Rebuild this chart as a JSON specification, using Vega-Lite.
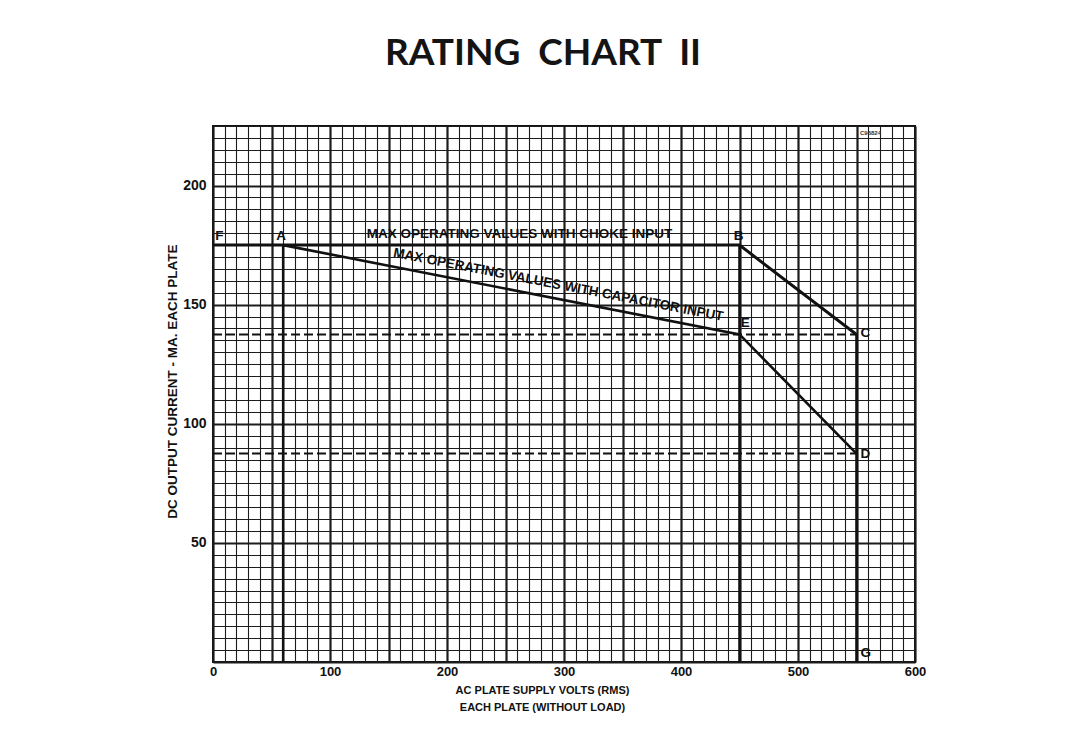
{
  "$schema": "https://vega.github.io/schema/vega-lite/v6.json",
  "width": 702,
  "height": 536,
  "autosize": {"type": "none"},
  "padding": {"left": 213, "top": 126, "right": 171, "bottom": 72},
  "background": "white",
  "title": {
    "text": "RATING\u00a0 CHART\u00a0 II",
    "font": "Lato",
    "fontWeight": 700,
    "fontSize": 37,
    "color": "#141414",
    "anchor": "middle",
    "dx": -21,
    "offset": 46
  },
  "config": {
    "view": {"stroke": "#111", "strokeWidth": 2},
    "axis": {
      "grid": true,
      "gridColor": "#1c1c1c",
      "gridOpacity": 1,
      "ticks": false,
      "domain": false,
      "labelFont": "Liberation Sans",
      "labelFontWeight": "bold",
      "labelColor": "#111",
      "labelBound": false,
      "labelFlush": false,
      "labelOverlap": false,
      "titleFont": "Liberation Sans",
      "titleFontWeight": "bold",
      "titleColor": "#111"
    }
  },
  "datasets": {
    "curves": [
      {"series": "choke", "volts": 0, "ma": 175},
      {"series": "choke", "volts": 450, "ma": 175},
      {"series": "choke", "volts": 550, "ma": 137.5},
      {"series": "capacitor", "volts": 60, "ma": 175},
      {"series": "capacitor", "volts": 450, "ma": 137.5},
      {"series": "capacitor", "volts": 550, "ma": 87.5}
    ],
    "limits": [
      {"volts": 0, "volts2": 550, "ma": 137.5},
      {"volts": 0, "volts2": 550, "ma": 87.5}
    ],
    "verticals": [
      {"volts": 60, "ma": 0, "ma2": 175},
      {"volts": 450, "ma": 0, "ma2": 175},
      {"volts": 550, "ma": 0, "ma2": 137.5}
    ],
    "points": [
      {"label": "F", "volts": 2, "ma": 176},
      {"label": "A", "volts": 54, "ma": 176},
      {"label": "B", "volts": 445, "ma": 176},
      {"label": "C", "volts": 553.5, "ma": 135.3},
      {"label": "E", "volts": 451, "ma": 139.3},
      {"label": "D", "volts": 553.5, "ma": 84.5},
      {"label": "G", "volts": 553.5, "ma": 0.8}
    ],
    "notes": [
      {"text": "MAX OPERATING VALUES WITH CHOKE INPUT", "volts": 262, "ma": 176.8}
    ],
    "slanted": [
      {"text": "MAX OPERATING VALUES WITH CAPACITOR INPUT", "volts": 294, "ma": 155.4}
    ],
    "code": [
      {"text": "C96824", "volts": 562, "ma": 222}
    ]
  },
  "encoding": {
    "x": {
      "field": "volts",
      "type": "quantitative",
      "scale": {"domain": [0, 600], "nice": false, "zero": false},
      "axis": {
        "values": [0,10,20,30,40,50,60,70,80,90,100,110,120,130,140,150,160,170,180,190,200,210,220,230,240,250,260,270,280,290,300,310,320,330,340,350,360,370,380,390,400,410,420,430,440,450,460,470,480,490,500,510,520,530,540,550,560,570,580,590,600],
        "labelExpr": "datum.value % 100 === 0 ? datum.label : ''",
        "gridWidth": {"condition": {"test": "datum.value % 50 === 0", "value": 2.2}, "value": 1.1},
        "labelFontSize": 13,
        "labelPadding": 3,
        "title": ["AC PLATE SUPPLY VOLTS (RMS)", "EACH PLATE (WITHOUT LOAD)"],
        "titleFontSize": 11,
        "titleX": 329,
        "titleY": 22,
        "titleAlign": "center",
        "titleBaseline": "top",
        "titleLineHeight": 17
      }
    },
    "y": {
      "field": "ma",
      "type": "quantitative",
      "scale": {"domain": [0, 225], "nice": false, "zero": false},
      "axis": {
        "values": [0,5,10,15,20,25,30,35,40,45,50,55,60,65,70,75,80,85,90,95,100,105,110,115,120,125,130,135,140,145,150,155,160,165,170,175,180,185,190,195,200,205,210,215,220,225],
        "labelExpr": "datum.value % 50 === 0 && datum.value > 0 ? datum.label : ''",
        "gridWidth": {"condition": {"test": "datum.value % 50 === 0", "value": 2.2}, "value": 1.1},
        "labelFontSize": 14,
        "labelPadding": 7,
        "title": "DC OUTPUT CURRENT - MA. EACH PLATE",
        "titleFontSize": 13.5,
        "titleAngle": -90,
        "titleX": -41,
        "titleY": 255,
        "titleAlign": "center",
        "titleBaseline": "middle"
      }
    }
  },
  "layer": [
    {
      "data": {"name": "limits"},
      "mark": {"type": "rule", "color": "#111", "strokeWidth": 2, "strokeDash": [9, 4]},
      "encoding": {"x2": {"field": "volts2"}}
    },
    {
      "data": {"name": "verticals"},
      "mark": {"type": "rule", "color": "#111", "strokeWidth": 2.6},
      "encoding": {"y2": {"field": "ma2"}}
    },
    {
      "data": {"name": "curves"},
      "transform": [{"filter": "datum.series === 'choke'"}],
      "mark": {"type": "line", "color": "#111", "strokeWidth": 3},
      "encoding": {"order": {"field": "volts", "type": "quantitative"}}
    },
    {
      "data": {"name": "curves"},
      "transform": [{"filter": "datum.series === 'capacitor'"}],
      "mark": {"type": "line", "color": "#111", "strokeWidth": 2.6},
      "encoding": {"order": {"field": "volts", "type": "quantitative"}}
    },
    {
      "data": {"name": "points"},
      "mark": {"type": "text", "align": "left", "baseline": "bottom", "font": "Liberation Sans", "fontWeight": "bold", "fontSize": 13.5, "color": "#111"},
      "encoding": {"text": {"field": "label"}}
    },
    {
      "data": {"name": "notes"},
      "mark": {"type": "text", "align": "center", "baseline": "bottom", "font": "Liberation Sans", "fontWeight": "bold", "fontSize": 13.5, "color": "#111"},
      "encoding": {"text": {"field": "text"}}
    },
    {
      "data": {"name": "slanted"},
      "mark": {"type": "text", "align": "center", "baseline": "bottom", "angle": 11, "font": "Liberation Sans", "fontWeight": "bold", "fontSize": 13.5, "color": "#111"},
      "encoding": {"text": {"field": "text"}}
    },
    {
      "data": {"name": "code"},
      "mark": {"type": "text", "align": "center", "baseline": "middle", "font": "Liberation Sans", "fontWeight": "bold", "fontSize": 6, "color": "#333"},
      "encoding": {"text": {"field": "text"}}
    }
  ]
}
